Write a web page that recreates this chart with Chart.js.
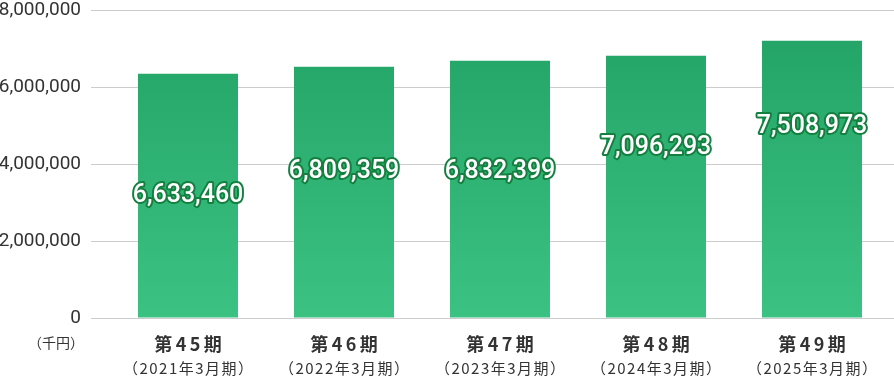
<!DOCTYPE html>
<html>
<head>
<meta charset="utf-8">
<script src="https://cdn.jsdelivr.net/npm/chart.js@4/dist/chart.umd.min.js"></script>
<style>
    html, body { margin: 0; padding: 0; background: #fff; }
    #wrap { width: 894px; height: 376px; }
</style>
</head>
<body>
<div id="wrap"><canvas id="salesChart" width="894" height="376"></canvas></div>
<script>
const categories = ['第45期', '第46期', '第47期', '第48期', '第49期'];
const periods = ['（2021年3月期）', '（2022年3月期）', '（2023年3月期）', '（2024年3月期）', '（2025年3月期）'];
// bar heights as drawn in the picture
const barValues = [6345000, 6527000, 6683000, 6813000, 7203000];
// value text printed on the bars
const valueLabels = ['6,633,460', '6,809,359', '6,832,399', '7,096,293', '7,508,973'];
// where each value text sits, on the y scale
const labelAnchors = [3164000, 3787000, 3787000, 4423000, 4969000];
const yMin = 0;
const yMax = 8000000;
const yStep = 2000000;
const unitLabel = '（千円）';

const CJK = '"Noto Sans CJK JP", "Noto Sans", sans-serif';

function barGradient(context) {
    const chart = context.chart;
    const area = chart.chartArea;
    if (!area) return '#2eb073';
    const g = chart.ctx.createLinearGradient(0, area.top, 0, area.bottom);
    g.addColorStop(0, '#22a265');
    g.addColorStop(1, '#3bc283');
    return g;
}

const gridExtend = {
    id: 'gridExtend',
    beforeDatasetsDraw(chart) {
        const { ctx, chartArea, scales: { y } } = chart;
        ctx.save();
        ctx.strokeStyle = '#cccccc';
        ctx.lineWidth = 1;
        y.ticks.forEach(t => {
            const py = Math.round(y.getPixelForValue(t.value)) + 0.5;
            ctx.beginPath();
            ctx.moveTo(chartArea.right, py);
            ctx.lineTo(chart.width, py);
            ctx.stroke();
        });
        ctx.restore();
    }
};

const xLabels = {
    id: 'xLabels',
    afterDraw(chart) {
        const { ctx, scales: { x } } = chart;
        ctx.save();
        ctx.fillStyle = '#333333';
        ctx.textAlign = 'center';
        ctx.textBaseline = 'middle';
        categories.forEach((c, i) => {
            const px = x.getPixelForValue(i);
            ctx.font = '700 18px ' + CJK;
            ctx.letterSpacing = '3.5px';
            ctx.fillText(c, px + 1.75, 344);
            ctx.font = '400 15px ' + CJK;
            ctx.letterSpacing = '1.5px';
            ctx.fillText(periods[i], px + 0.75, 368);
        });
        ctx.letterSpacing = '0px';
        ctx.font = '400 14px ' + CJK;
        ctx.textAlign = 'right';
        ctx.fillText(unitLabel, 84, 343);
        ctx.restore();
    }
};

const valueText = {
    id: 'valueText',
    afterDatasetsDraw(chart) {
        const { ctx, scales: { x, y } } = chart;
        ctx.save();
        ctx.font = '500 25px Roboto, sans-serif';
        ctx.textAlign = 'center';
        ctx.textBaseline = 'middle';
        ctx.lineJoin = 'round';
        ctx.lineWidth = 4;
        ctx.strokeStyle = '#13803f';
        ctx.fillStyle = '#ffffff';
        valueLabels.forEach((t, i) => {
            const px = x.getPixelForValue(i);
            const py = y.getPixelForValue(labelAnchors[i]);
            ctx.strokeText(t, px, py);
            ctx.fillText(t, px, py);
        });
        ctx.restore();
    }
};

new Chart(document.getElementById('salesChart'), {
    type: 'bar',
    data: {
        labels: categories,
        datasets: [{
            data: barValues,
            backgroundColor: barGradient,
            borderWidth: 0,
            categoryPercentage: 1,
            barPercentage: 0.641
        }]
    },
    options: {
        responsive: false,
        animation: false,
        layout: { autoPadding: false, padding: { top: 10, right: 4, left: 0, bottom: 0 } },
        plugins: {
            legend: { display: false },
            tooltip: { enabled: false }
        },
        scales: {
            x: {
                grid: { display: false },
                border: { display: false },
                ticks: { display: false },
                afterFit(s) { s.height = 58; }
            },
            y: {
                min: yMin,
                max: yMax,
                grid: { color: '#cccccc', tickLength: 19 },
                border: { display: false },
                ticks: {
                    stepSize: yStep,
                    padding: 10,
                    color: '#333333',
                    font: { family: 'Roboto, sans-serif', size: 19 },
                    callback: v => v.toLocaleString('en-US')
                },
                afterFit(s) {
                    s.width = 110;
                    // tick padding is horizontal here, don't let it eat the top
                    s.paddingTop = 0;
                    s.paddingBottom = 0;
                }
            }
        }
    },
    plugins: [gridExtend, xLabels, valueText]
});
</script>
</body>
</html>
